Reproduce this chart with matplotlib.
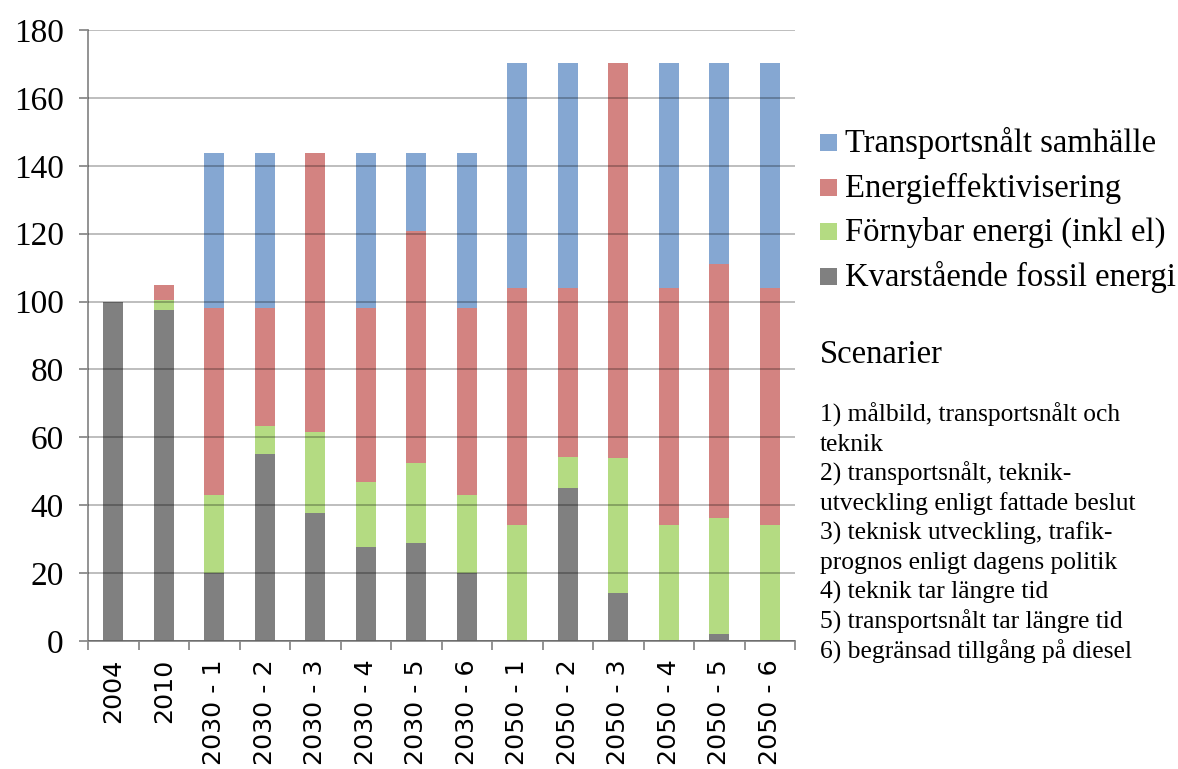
import matplotlib
matplotlib.use("Agg")
import matplotlib.pyplot as plt
import numpy as np
from matplotlib.patches import Rectangle

W, H = 1178, 769

categories = ["2004", "2010",
              "2030 - 1", "2030 - 2", "2030 - 3", "2030 - 4", "2030 - 5", "2030 - 6",
              "2050 - 1", "2050 - 2", "2050 - 3", "2050 - 4", "2050 - 5", "2050 - 6"]

fossil = [100, 97.6, 20, 55, 37.6, 27.6, 28.8, 20, 0, 45, 14.2, 0, 2, 0]
renewable = [0, 3.0, 23.1, 8.4, 24.1, 19.2, 23.7, 23, 34.2, 9.2, 39.8, 34.2, 34.3, 34.2]
efficiency = [0, 4.3, 54.9, 34.6, 82, 51.2, 68.3, 55, 69.8, 49.8, 116.4, 69.8, 74.7, 69.8]
transport = [0, 0, 45.7, 45.7, 0, 45.7, 22.9, 45.7, 66.4, 66.4, 0, 66.4, 59.4, 66.4]

series_names = ["Kvarstående fossil energi", "Förnybar energi (inkl el)",
                "Energieffektivisering", "Transportsnålt samhälle"]
colors = ["#808080", "#B4DB82", "#D38381", "#85A7D2"]

scenario_title = "Scenarier"
scenario_lines = [
    "1) målbild, transportsnålt och",
    "teknik",
    "2) transportsnålt, teknik-",
    "utveckling enligt fattade beslut",
    "3) teknisk utveckling, trafik-",
    "prognos enligt dagens politik",
    "4) teknik tar längre tid",
    "5) transportsnålt tar längre tid",
    "6) begränsad tillgång på diesel",
]

SERIF = "Liberation Serif"
SANS = "DejaVu Sans"


def fx(px):
    return px / W


def fy(py):
    return 1 - py / H


fig = plt.figure(figsize=(W / 100, H / 100), dpi=100, facecolor="white")
ax = fig.add_axes([fx(88), fy(641), fx(795) - fx(88), fy(30) - fy(641)])

x = np.arange(len(categories))
bottom = np.zeros(len(categories))
for vals, col in zip([fossil, renewable, efficiency, transport], colors):
    ax.bar(x, vals, width=0.4, bottom=bottom, color=col, zorder=1)
    bottom += np.array(vals)

ax.set_xlim(-0.5, len(categories) - 0.5)
ax.set_ylim(0, 180)
ax.set_yticks(np.arange(0, 181, 20))
ax.yaxis.grid(True, color="black", alpha=0.26, lw=1.4, zorder=3)
ax.set_axisbelow(False)

for s in ["top", "right"]:
    ax.spines[s].set_visible(False)
for s in ["left", "bottom"]:
    ax.spines[s].set_color("#8a8a8a")
    ax.spines[s].set_linewidth(1.3)

ax.tick_params(axis="y", length=6.5, width=1.3, color="#8a8a8a", pad=11)
for lab in ax.get_yticklabels():
    lab.set_fontfamily(SERIF)
    lab.set_fontsize(24)

ax.set_xticks(x)
ax.set_xticklabels(categories, rotation=90, family=SANS, fontsize=18.3, va="top")
ax.set_xticks(np.arange(-0.5, len(categories)), minor=True)
ax.tick_params(axis="x", which="major", length=0, pad=13)
ax.tick_params(axis="x", which="minor", length=6.5, width=1.3, color="#8a8a8a")

# legend (top entry = top of stack)
legend_rows = [143, 188, 232, 277]
for row_y, name, col in zip(legend_rows, series_names[::-1], colors[::-1]):
    fig.add_artist(Rectangle((fx(820), fy(row_y + 8)), fx(837) - fx(820), fy(row_y - 9) - fy(row_y + 8),
                             transform=fig.transFigure, facecolor=col, edgecolor="none"))
    fig.text(fx(845), fy(row_y), name, family=SERIF, fontsize=23.5, va="center", ha="left")

fig.text(fx(820), fy(355), scenario_title, family=SERIF, fontsize=23.5, va="center", ha="left")
for i, line in enumerate(scenario_lines):
    fig.text(fx(820), fy(415 + i * 29.6), line, family=SERIF, fontsize=18.4, va="center", ha="left")

fig.savefig("out.png", dpi=100, facecolor="white")
